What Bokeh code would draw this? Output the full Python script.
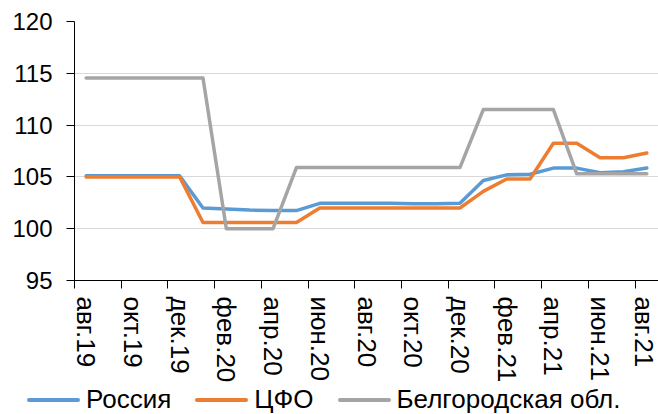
from bokeh.plotting import figure
from bokeh.layouts import column
from bokeh.models import FixedTicker, Range1d, Div
from bokeh.embed import file_html
from bokeh.resources import INLINE

months = ["авг.19", "сен.19", "окт.19", "ноя.19", "дек.19", "янв.20", "фев.20",
          "мар.20", "апр.20", "май.20", "июн.20", "июл.20", "авг.20", "сен.20",
          "окт.20", "ноя.20", "дек.20", "янв.21", "фев.21", "мар.21", "апр.21",
          "май.21", "июн.21", "июл.21", "авг.21"]
russia = [105.1, 105.1, 105.1, 105.1, 105.1, 102.0, 101.9, 101.8, 101.75, 101.75,
          102.45, 102.45, 102.45, 102.45, 102.4, 102.4, 102.45, 104.65, 105.2, 105.25,
          105.85, 105.85, 105.4, 105.5, 105.85]
cfo = [105.0, 105.0, 105.0, 105.0, 105.0, 100.6, 100.6, 100.6, 100.6, 100.6,
       102.0, 102.0, 102.0, 102.0, 102.0, 102.0, 102.0, 103.6, 104.8, 104.8,
       108.25, 108.25, 106.85, 106.85, 107.3]
belgorod = [114.55, 114.55, 114.55, 114.55, 114.55, 114.55, 100.0, 100.0, 100.0, 105.9,
            105.9, 105.9, 105.9, 105.9, 105.9, 105.9, 105.9, 111.5, 111.5, 111.5,
            111.5, 105.3, 105.3, 105.3, 105.3]
series_names = ["Россия", "ЦФО", "Белгородская обл."]
colors = ["#5B9BD5", "#ED7D31", "#A5A5A5"]
y_ticks = [95, 100, 105, 110, 115, 120]
series = [russia, cfo, belgorod]

x = list(range(len(months)))
FONT = "Liberation Sans"

p = figure(width=658, height=385, output_backend="svg", toolbar_location=None,
           x_range=Range1d(-0.5, len(months) - 0.5), y_range=Range1d(95, 120),
           min_border_left=74, min_border_right=0, min_border_top=21, min_border_bottom=100)
p.outline_line_color = None

for ys, c in zip(series, colors):
    p.line(x, ys, line_color=c, line_width=3.5, line_join="round", line_cap="round")

# x axis
xt = FixedTicker(ticks=list(range(0, len(months), 2)),
                 minor_ticks=[i - 0.5 for i in range(0, len(months) + 1, 2)])
p.xaxis.ticker = xt
p.xaxis.major_label_overrides = {i: months[i] for i in range(0, len(months), 2)}
p.xaxis.major_label_orientation = "vertical"
p.xaxis.major_tick_line_color = None
p.xaxis.major_tick_out = 8
p.xaxis.major_tick_in = 0
p.xaxis.minor_tick_out = 8
p.xaxis.minor_tick_in = 0
p.xaxis.minor_tick_line_color = "black"
p.xaxis.axis_line_color = "black"
p.xaxis.major_label_text_font = FONT
p.xaxis.major_label_text_font_size = "26px"
p.xaxis.major_label_text_color = "black"
p.xaxis.major_label_standoff = 8

# y axis
p.yaxis.ticker = FixedTicker(ticks=y_ticks)
p.yaxis.major_tick_out = 8
p.yaxis.major_tick_in = 0
p.yaxis.minor_tick_line_color = None
p.yaxis.major_tick_line_color = "black"
p.yaxis.axis_line_color = "black"
p.yaxis.major_label_text_font = FONT
p.yaxis.major_label_text_font_size = "24px"
p.yaxis.major_label_text_color = "black"
p.yaxis.major_label_standoff = 14

p.xgrid.visible = False
p.ygrid.ticker = FixedTicker(ticks=y_ticks)
p.ygrid.grid_line_color = "#D9D9D9"
p.ygrid.grid_line_width = 1

# legend strip below the chart
items = "".join(
    f'<span style="display:inline-block;width:53px;height:4px;border-radius:2px;'
    f'background:{c};margin-right:6px;flex:none"></span>'
    f'<span style="line-height:29px;margin-right:24px;white-space:nowrap">{n}</span>'
    for n, c in zip(series_names, colors))
legend_html = (f'<div style="display:flex;align-items:center;height:29px;padding-left:27px;'
               f'font-family:\'{FONT}\',Arial,sans-serif;font-size:26px;color:black;margin:0">'
               f'{items}</div>')
leg = Div(text=legend_html, width=658, height=29, margin=0)

layout = column(p, leg, spacing=0)
open("out.html", "w").write(file_html(layout, INLINE))
